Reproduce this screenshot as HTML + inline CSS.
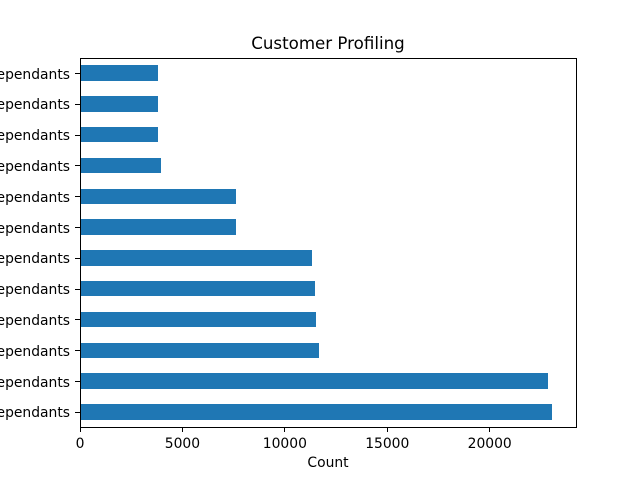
<!DOCTYPE html>
<html>
<head>
<meta charset="utf-8">
<title>Customer Profiling</title>
<style>
html,body{margin:0;padding:0;background:#fff;}
svg{display:block;}
text{font-family:"DejaVu Sans",sans-serif;fill:#000;}
</style>
</head>
<body>
<svg id="chart" xmlns="http://www.w3.org/2000/svg" width="640" height="480" viewBox="0 0 640 480">
<rect x="0" y="0" width="640" height="480" fill="#ffffff"/>
<text x="328" y="49" text-anchor="middle" font-size="16.67">Customer Profiling</text>
<text x="328" y="467" text-anchor="middle" font-size="13.89">Count</text>
<g id="bars"></g>
<g id="x-ticks"></g>
<g id="y-ticks"></g>
<g stroke="#000" stroke-width="1" shape-rendering="crispEdges">
<line x1="80.5" y1="58" x2="80.5" y2="428"/>
<line x1="576.5" y1="58" x2="576.5" y2="428"/>
<line x1="80" y1="58.5" x2="577" y2="58.5"/>
<line x1="80" y1="427.5" x2="577" y2="427.5"/>
</g>
</svg>
<script>
// Category labels are cropped in the reference: only the trailing word is legible.
const categories = ["dependants","dependants","dependants","dependants","dependants","dependants","dependants","dependants","dependants","dependants","dependants","dependants"];
const counts = [23060,22850,11667,11521,11472,11325,7615,7615,3954,3808,3808,3808];
const xTickValues = [0,5000,10000,15000,20000];

const NS = 'http://www.w3.org/2000/svg';
const plotLeft = 80, plotRight = 576, plotTop = 57.6, plotBottom = 427.2;
const xMax = Math.max.apply(null, counts) * 1.05;
function xScale(v) { return plotLeft + v / xMax * (plotRight - plotLeft); }
function yScale(i) { return plotBottom - (i + 0.5) / categories.length * (plotBottom - plotTop); }
const barUnit = (plotBottom - plotTop) / categories.length;

const barsGroup = document.getElementById('bars');
const xTicksGroup = document.getElementById('x-ticks');
const yTicksGroup = document.getElementById('y-ticks');

counts.forEach(function (value, i) {
  const cy = yScale(i);
  const top = Math.round(cy - barUnit * 0.25);
  const bottom = Math.round(cy + barUnit * 0.25);
  const rect = document.createElementNS(NS, 'rect');
  
  
  rect.setAttribute('x', plotLeft);
  rect.setAttribute('y', top);
  rect.setAttribute('width', Math.round(xScale(value)) - plotLeft);
  rect.setAttribute('height', bottom - top);
  rect.setAttribute('fill', '#1f77b4');
  rect.setAttribute('shape-rendering', 'crispEdges');
  barsGroup.appendChild(rect);

  const tick = document.createElementNS(NS, 'line');
  
  
  const ty = Math.round(cy) + 0.5;
  tick.setAttribute('x1', 75);
  tick.setAttribute('x2', 80);
  tick.setAttribute('y1', ty);
  tick.setAttribute('y2', ty);
  tick.setAttribute('stroke', '#000');
  tick.setAttribute('stroke-width', '1');
  tick.setAttribute('shape-rendering', 'crispEdges');
  yTicksGroup.appendChild(tick);

  const label = document.createElementNS(NS, 'text');
  
  
  label.setAttribute('x', 70);
  label.setAttribute('y', Math.round(cy + 5.5));
  label.setAttribute('text-anchor', 'end');
  label.setAttribute('font-size', '13.89');
  label.textContent = categories[i];
  yTicksGroup.appendChild(label);
});

xTickValues.forEach(function (value) {
  const tx = Math.floor(xScale(value)) + 0.5;
  const tick = document.createElementNS(NS, 'line');
  
  
  tick.setAttribute('x1', tx);
  tick.setAttribute('x2', tx);
  tick.setAttribute('y1', 428);
  tick.setAttribute('y2', 432);
  tick.setAttribute('stroke', '#000');
  tick.setAttribute('stroke-width', '1');
  tick.setAttribute('shape-rendering', 'crispEdges');
  xTicksGroup.appendChild(tick);

  const label = document.createElementNS(NS, 'text');
  
  
  label.setAttribute('x', xScale(value));
  label.setAttribute('y', 448);
  label.setAttribute('text-anchor', 'middle');
  label.setAttribute('font-size', '13.89');
  label.textContent = String(value);
  xTicksGroup.appendChild(label);
});
</script>
</body>
</html>
